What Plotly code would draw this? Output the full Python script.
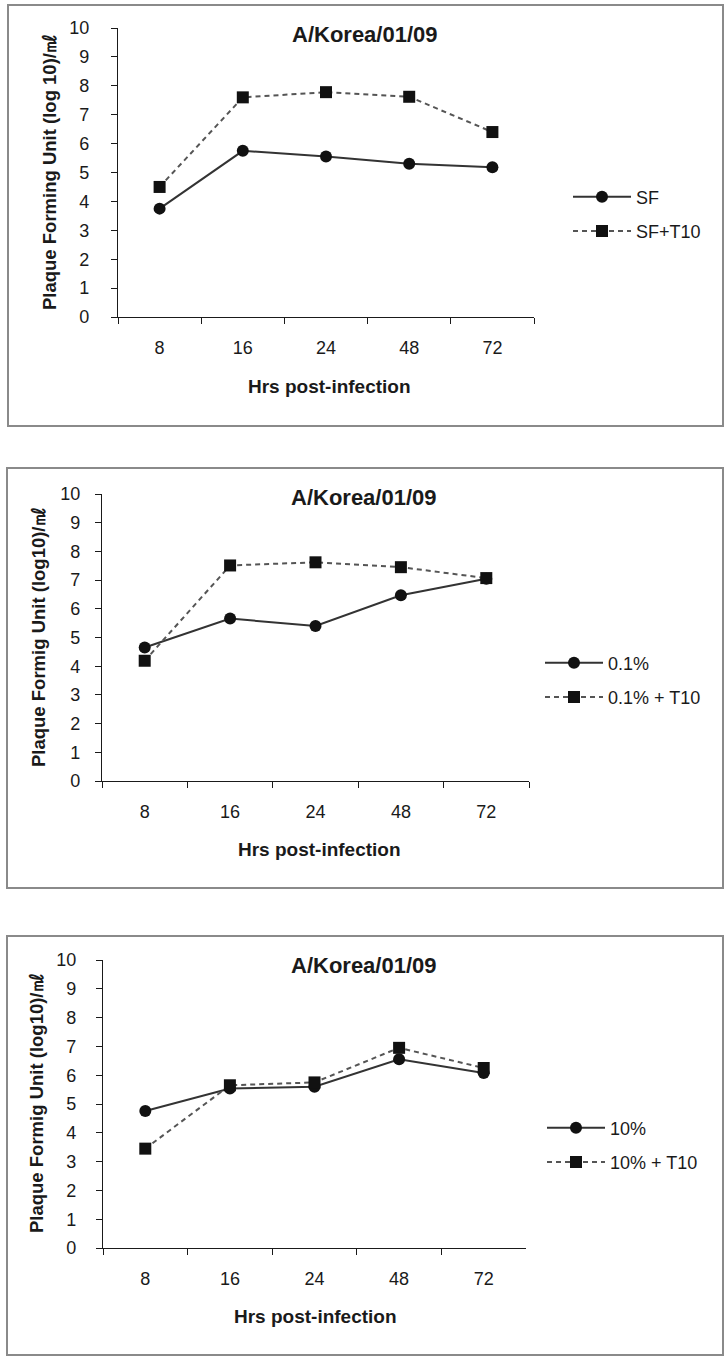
import plotly.graph_objects as go

# ---------------- data ----------------
hours = ["8", "16", "24", "48", "72"]
y_tick_vals = list(range(0, 11))

title_text = "A/Korea/01/09"
x_title = "Hrs post-infection"
y_title_1 = "Plaque Forming Unit (log 10)/㎖"
y_title_2 = "Plaque Formig Unit (log10)/㎖"

sf = [3.75, 5.75, 5.55, 5.30, 5.18]
sf_t10 = [4.50, 7.60, 7.78, 7.62, 6.40]

p01 = [4.65, 5.66, 5.40, 6.47, 7.05]
p01_t10 = [4.19, 7.51, 7.62, 7.45, 7.07]

p10 = [4.76, 5.54, 5.60, 6.55, 6.08]
p10_t10 = [3.45, 5.65, 5.75, 6.95, 6.25]

names_1 = ["SF", "SF+T10"]
names_2 = ["0.1%", "0.1% + T10"]
names_3 = ["10%", "10% + T10"]

# ---------------- layout geometry (pixels) ----------------
W, H = 726, 1358
FONT = "Liberation Sans, Arial, sans-serif"
INK = "#1a1a1a"

def px(x):
    return x / W

def py(y):
    return 1 - y / H

panels = [
    dict(series=(sf, sf_t10), names=names_1, ytitle=y_title_1,
         box=(8, 5, 723, 426), xax=(118, 534), yax=(28, 317),
         title=(365, 34), xt=(329, 386), yt=(49, 172), leg=(568, 214), ystand=18),
    dict(series=(p01, p01_t10), names=names_2, ytitle=y_title_2,
         box=(7, 468, 723, 888), xax=(102, 529), yax=(494, 781),
         title=(364, 497), xt=(319, 849), yt=(38, 637), leg=(540, 680), ystand=11),
    dict(series=(p10, p10_t10), names=names_3, ytitle=y_title_2,
         box=(7, 936, 723, 1355), xax=(103, 526), yax=(960, 1248),
         title=(364, 965), xt=(315, 1316), yt=(36, 1103), leg=(542, 1145), ystand=16),
]

fig = go.Figure()
shapes, annotations = [], []
layout_axes = {}

for i, p in enumerate(panels, start=1):
    sfx = "" if i == 1 else str(i)
    legname = "legend" if i == 1 else f"legend{i}"
    a, b = p["series"]
    n1, n2 = p["names"]
    fig.add_trace(go.Scatter(
        x=hours, y=a, name=n1, mode="lines+markers",
        xaxis="x" + sfx, yaxis="y" + sfx, legend=legname, legendgroup=f"g{i}a",
        line=dict(color="#333333", width=2),
        marker=dict(symbol="circle", size=12, color="#111111"),
    ))
    fig.add_trace(go.Scatter(
        x=hours, y=b, name=n2, mode="lines+markers",
        xaxis="x" + sfx, yaxis="y" + sfx, legend=legname, legendgroup=f"g{i}b",
        line=dict(color="#555555", width=2, dash="5px,4px"),
        marker=dict(symbol="square", size=12, color="#111111"),
    ))

    x0, x1 = p["xax"]
    ytop, ybot = p["yax"]
    layout_axes["xaxis" + sfx] = dict(
        domain=[px(x0), px(x1)], anchor="y" + sfx, automargin=False,
        type="category", categoryorder="array", categoryarray=hours,
        range=[-0.5, len(hours) - 0.5],
        showgrid=False, zeroline=False, showline=True, linecolor=INK, linewidth=1.3,
        ticks="outside", tickson="boundaries", ticklen=6, tickcolor=INK, tickwidth=1.3,
        ticklabelstandoff=14,
        tickfont=dict(family=FONT, size=18, color=INK), fixedrange=True,
    )
    layout_axes["yaxis" + sfx] = dict(
        domain=[py(ybot), py(ytop)], anchor="x" + sfx, automargin=False,
        range=[0, 10], tickvals=y_tick_vals,
        showgrid=False, zeroline=False, showline=True, linecolor=INK, linewidth=1.3,
        ticks="outside", ticklen=6, tickcolor=INK, tickwidth=1.3,
        ticklabelstandoff=p["ystand"],
        tickfont=dict(family=FONT, size=18, color=INK), fixedrange=True,
    )
    lx, ly = p["leg"]
    layout_axes[legname] = dict(
        x=px(lx), y=py(ly), xanchor="left", yanchor="middle",
        bgcolor="rgba(0,0,0,0)", font=dict(family=FONT, size=18, color=INK),
        tracegroupgap=8, itemwidth=58,
    )

    bx0, by0, bx1, by1 = p["box"]
    shapes.append(dict(type="rect", xref="paper", yref="paper",
                       x0=px(bx0), x1=px(bx1), y0=py(by1), y1=py(by0),
                       line=dict(color="#8a8a8a", width=2), layer="below"))

    tx, ty = p["title"]
    annotations.append(dict(text=f"<b>{title_text}</b>", x=px(tx), y=py(ty),
                            xref="paper", yref="paper", showarrow=False,
                            xanchor="center", yanchor="middle",
                            font=dict(family=FONT, size=22, color=INK)))
    xtx, xty = p["xt"]
    annotations.append(dict(text=f"<b>{x_title}</b>", x=px(xtx), y=py(xty),
                            xref="paper", yref="paper", showarrow=False,
                            xanchor="center", yanchor="middle",
                            font=dict(family=FONT, size=19, color=INK)))
    ytx, yty = p["yt"]
    annotations.append(dict(text=f"<b>{p['ytitle']}</b>", x=px(ytx), y=py(yty),
                            xref="paper", yref="paper", showarrow=False, textangle=-90,
                            xanchor="center", yanchor="middle",
                            font=dict(family=FONT, size=18.5, color=INK)))

fig.update_layout(
    width=W, height=H, autosize=False,
    margin=dict(l=0, r=0, t=0, b=0, pad=0),
    paper_bgcolor="white", plot_bgcolor="white",
    shapes=shapes, annotations=annotations,
    showlegend=True,
    **layout_axes,
)

fig.write_html(
    "out.html",
    config={"displayModeBar": False},
    post_script="document.body.style.margin='0';document.body.style.padding='0';"
                "document.body.style.overflow='hidden';",
)
